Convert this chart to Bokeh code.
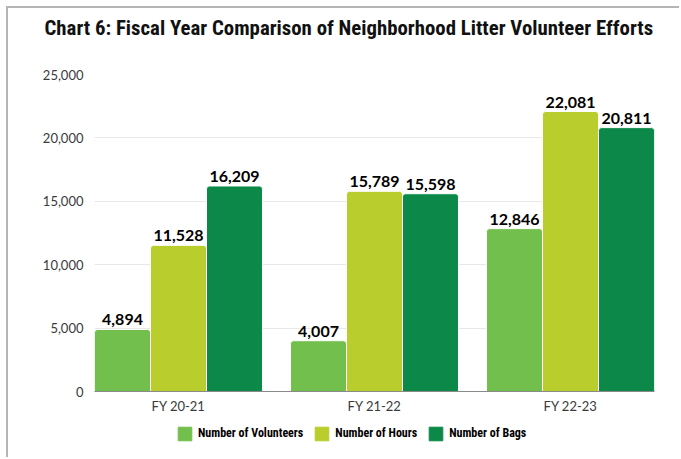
from bokeh.plotting import figure
from bokeh.layouts import column
from bokeh.models import (FactorRange, Range1d, ColumnDataSource, NumeralTickFormatter,
                          FixedTicker, Legend, LegendItem, Title)
from bokeh.transform import dodge
from bokeh.core.properties import value
from bokeh.embed import file_html
from bokeh.resources import INLINE

# ---- data ----
categories = ["FY 20-21", "FY 21-22", "FY 22-23"]
series = ["Number of Volunteers", "Number of Hours", "Number of Bags"]
volunteers = [4894, 4007, 12846]
hours = [11528, 15789, 22081]
bags = [16209, 15598, 20811]
colors = ["#72BF4E", "#B9CD2D", "#0C8948"]
y_ticks = [0, 5000, 10000, 15000, 20000, 25000]

cols = ["volunteers", "hours", "bags"]
data = dict(cat=categories, volunteers=volunteers, hours=hours, bags=bags)
for c, arr in zip(cols, [volunteers, hours, bags]):
    data[c + "_t"] = [f"{v:,}" for v in arr]
src = ColumnDataSource(data)

TITLE_FONT = "Roboto Condensed"
LEG_FONT = "Roboto Condensed"
NUM_FONT = "Lato"

BAR_W = 0.2857
xr = FactorRange(factors=categories, range_padding=-0.0714, range_padding_units="absolute")

p = figure(width=671, height=412, output_backend="svg", toolbar_location=None,
           x_range=xr, y_range=Range1d(0, 25000),
           min_border_left=86, min_border_right=25, min_border_top=66, min_border_bottom=29)
p.outline_line_color = None

spacer = Title(text=" ", text_font_size="1px", standoff=26)
p.add_layout(spacer, "above")
t = Title(text="Chart 6: Fiscal Year Comparison of Neighborhood Litter Volunteer Efforts",
          align="left", offset=-50, vertical_align="top", text_font=TITLE_FONT,
          text_font_style="bold", text_font_size="20.8px", text_color="#111111", standoff=8)
p.add_layout(t, "above")

renderers = []
for k, (c, col) in enumerate(zip(cols, colors)):
    off = (k - 1) * BAR_W
    rr = p.vbar(x=dodge("cat", off, range=xr), top=c, width=BAR_W, source=src,
                fill_color=col, line_color="white", line_width=1,
                border_radius=(3, 3, 0, 0))
    renderers.append(rr)
    p.text(x=dodge("cat", off, range=xr), y=c, text=c + "_t", source=src,
           text_align="center", text_baseline="bottom", y_offset=-4,
           text_font=value(NUM_FONT), text_font_style="bold",
           text_font_size="16px", text_color="#000000")

# axes
p.yaxis.ticker = FixedTicker(ticks=y_ticks)
p.yaxis.formatter = NumeralTickFormatter(format="0,0")
p.yaxis.axis_line_color = None
p.yaxis.major_tick_line_color = None
p.yaxis.minor_tick_line_color = None
p.yaxis.major_tick_out = 0
p.yaxis.major_tick_in = 0
p.yaxis.minor_tick_out = 0
p.yaxis.major_label_standoff = 11
p.yaxis.major_label_text_font = NUM_FONT
p.yaxis.major_label_text_font_size = "13px"
p.yaxis.major_label_text_color = "#3a3a3a"

p.xaxis.axis_line_color = "#8a8a8a"
p.xaxis.axis_line_width = 1
p.xaxis.major_tick_line_color = None
p.xaxis.major_tick_out = 0
p.xaxis.major_tick_in = 0
p.xaxis.major_label_standoff = 6
p.xaxis.major_label_text_font = NUM_FONT
p.xaxis.major_label_text_font_size = "13px"
p.xaxis.major_label_text_color = "#3a3a3a"

p.xgrid.grid_line_color = None
p.ygrid.grid_line_color = "#e8e8e8"
p.ygrid.grid_line_width = 1

# legend strip (separate small figure so the legend is not clipped)
lg = figure(width=671, height=37, output_backend="svg", toolbar_location=None,
            x_range=Range1d(0, 1), y_range=Range1d(0, 1),
            x_axis_location=None, y_axis_location=None,
            min_border_left=0, min_border_right=0, min_border_top=0, min_border_bottom=0)
lg.outline_line_color = None
lg.xgrid.visible = False
lg.ygrid.visible = False
items = []
for s, c in zip(series, colors):
    # zero-height proxy bar: draws nothing, only supplies the legend swatch
    d = lg.vbar(x=[0.5], top=[0], bottom=[0], width=0.0, fill_color=c, line_color=c,
                line_width=1, border_radius=3)
    items.append(LegendItem(label=s, renderers=[d]))
leg = Legend(items=items, orientation="horizontal", location=(82, 15.5),
             glyph_width=17, glyph_height=17, label_height=17, label_standoff=5, spacing=10,
             padding=0, margin=0, border_line_color=None, background_fill_alpha=0,
             label_text_font=LEG_FONT, label_text_font_style="bold",
             label_text_font_size="12px", label_text_color="#000000")
lg.add_layout(leg, "center")

layout = column(p, lg, spacing=0)
layout.styles = {"margin-left": "6px", "margin-top": "6px",
                 "border-left": "2px solid #b5b5b5", "border-top": "2px solid #b5b5b5"}

open("out.html", "w").write(file_html(layout, INLINE))
